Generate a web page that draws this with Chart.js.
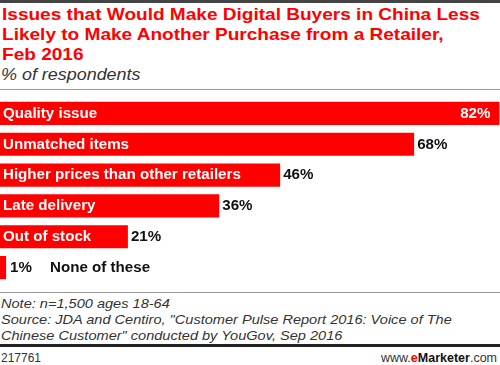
<!DOCTYPE html>
<html>
<head>
<meta charset="utf-8">
<script src="https://cdn.jsdelivr.net/npm/chart.js@4/dist/chart.umd.min.js"></script>
<style>
  html, body { margin: 0; padding: 0; background: #fff; }
  #wrap { position: relative; width: 500px; height: 365px; overflow: hidden; background: #fff; font-family: "Liberation Sans", Arial, sans-serif; }
  .rule { position: absolute; left: 0; width: 500px; }
  .wide { transform: scaleX(1.12); transform-origin: 0 0; }
  #title { position: absolute; left: 2px; top: 5px; color: #ff0000; font-weight: bold; font-size: 17px; line-height: 20px; white-space: nowrap; }
  #subtitle { position: absolute; left: 1px; top: 65px; color: #333; font-style: italic; font-size: 16px; line-height: 20px; white-space: nowrap; }
  #notes { position: absolute; left: 1px; top: 296px; color: #333; font-style: italic; font-size: 13px; line-height: 16px; white-space: nowrap; }
  #code { position: absolute; left: 1px; top: 351px; color: #333; font-size: 12px; line-height: 14px; }
  #brand { position: absolute; right: 3px; top: 351px; color: #333; font-size: 12.5px; line-height: 14px; }
  #brand b { color: #111; }
  #brand .e { color: #ff0000; font-weight: bold; }
  #chartBox { position: absolute; left: 0; top: 98px; width: 500px; height: 185px; }
</style>
</head>
<body>
<div id="wrap">
  <div class="rule" style="top:0;height:3px;background:#444;"></div>
  <div id="title" class="wide">Issues that Would Make Digital Buyers in China Less<br>Likely to Make Another Purchase from a Retailer,<br>Feb 2016</div>
  <div id="subtitle" class="wide">% of respondents</div>
  <div class="rule" style="top:89px;height:1px;background:#999;"></div>
  <div id="chartBox"><canvas id="c" width="500" height="185"></canvas></div>
  <div class="rule" style="top:292px;height:1px;background:#999;"></div>
  <div id="notes" class="wide">Note: n=1,500 ages 18-64<br>Source: JDA and Centiro, "Customer Pulse Report 2016: Voice of The<br>Chinese Customer" conducted by YouGov, Sep 2016</div>
  <div class="rule" style="top:344px;height:3px;background:#222;"></div>
  <div id="code">217761</div>
  <div id="brand">www.<span class="e">e</span><b>Marketer</b>.com</div>
</div>
<script>
const categories = ["Quality issue", "Unmatched items", "Higher prices than other retailers", "Late delivery", "Out of stock", "None of these"];
const values = [82, 68, 46, 36, 21, 1];
const valueLabels = ["82%", "68%", "46%", "36%", "21%", "1%"];

const SX = 1.08;
function drawText(ctx, text, x, y, align) {
  ctx.save();
  ctx.translate(x, y);
  ctx.scale(SX, 1);
  ctx.textAlign = align;
  ctx.fillText(text, 0, 0);
  ctx.restore();
}

const barLabels = {
  id: 'barLabels',
  afterDatasetsDraw(chart) {
    const ctx = chart.ctx;
    const meta = chart.getDatasetMeta(0);
    ctx.save();
    ctx.font = 'bold 14px "Liberation Sans", Arial, sans-serif';
    ctx.textBaseline = 'middle';
    meta.data.forEach((bar, i) => {
      const y = bar.y + 0.5;
      const left = bar.base;
      const right = bar.x;
      const catW = ctx.measureText(categories[i]).width * SX;
      const valW = ctx.measureText(valueLabels[i]).width * SX;
      const inside = catW + 8 < right - left;
      if (inside) {
        ctx.fillStyle = '#fff';
        drawText(ctx, categories[i], left + 3, y, 'left');
        if (right + 5 + valW > chart.chartArea.right) {
          drawText(ctx, valueLabels[i], right - 9, y, 'right');
        } else {
          ctx.fillStyle = '#111';
          drawText(ctx, valueLabels[i], right + 3, y, 'left');
        }
      } else {
        ctx.fillStyle = '#111';
        drawText(ctx, valueLabels[i], right + 4, y, 'left');
        drawText(ctx, categories[i], right + 44, y, 'left');
      }
    });
    ctx.restore();
  }
};

new Chart(document.getElementById('c'), {
  type: 'bar',
  data: {
    labels: categories,
    datasets: [{
      data: values,
      backgroundColor: '#ff0000',
      borderWidth: 0,
      categoryPercentage: 1,
      barPercentage: 0.75
    }]
  },
  options: {
    indexAxis: 'y',
    responsive: false,
    animation: false,
    layout: { padding: 0 },
    plugins: { legend: { display: false }, tooltip: { enabled: false }, title: { display: false } },
    scales: {
      x: { display: false, min: 0, max: 82.1 },
      y: { display: false }
    }
  },
  plugins: [barLabels]
});
</script>
</body>
</html>
